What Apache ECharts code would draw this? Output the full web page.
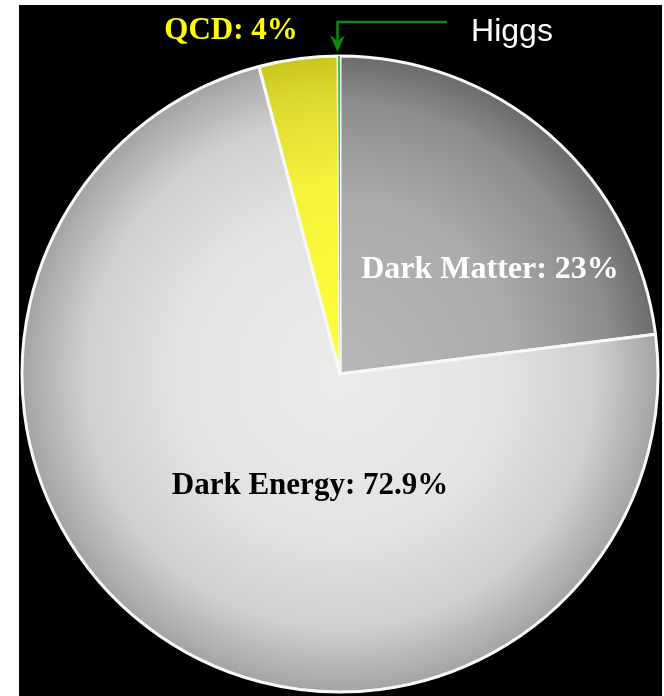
<!DOCTYPE html>
<html>
<head>
<meta charset="utf-8">
<title>Energy budget of the Universe</title>
<script src="https://cdn.jsdelivr.net/npm/echarts@6/dist/echarts.min.js"></script>
<style>
  html, body { margin: 0; padding: 0; background: #fff; }
  #chart { width: 664px; height: 696px; }
</style>
</head>
<body>
<div id="chart"></div>
<script>
// Shares of the cosmic energy budget, in percent, clockwise from 12 o'clock
const categories = ['Dark Matter', 'Dark Energy', 'QCD', 'Higgs'];
const shares = [23, 72.9, 4, 0.1];
// Which slices print their percentage after the name
const showValue = [true, true, true, false];

const CX = 340, CY = 374, R = 318;

function radial(stops) {
  return {
    type: 'radial', x: CX, y: CY, r: R + 2, global: true,
    colorStops: stops.map(([offset, color]) => ({ offset, color }))
  };
}

const sliceFill = {
  'Dark Matter': radial([[0, '#b8b8b8'], [0.55, '#aaaaaa'], [0.85, '#8c8c8c'], [1, '#6a6a6a']]),
  'Dark Energy': radial([[0, '#ececec'], [0.5, '#e3e3e3'], [0.8, '#cfcfcf'], [1, '#a2a2a2']]),
  'QCD':         radial([[0, '#ffff3c'], [0.6, '#f4f23a'], [0.85, '#dedb30'], [1, '#c9c51f']]),
  'Higgs':       '#34c934'
};

const serif = '"Liberation Serif", "Times New Roman", serif';
const labelFont = {
  'Dark Matter': { color: '#ffffff', fontFamily: serif, fontWeight: 'bold', fontSize: 32 },
  'Dark Energy': { color: '#000000', fontFamily: serif, fontWeight: 'bold', fontSize: 31 },
  'QCD':         { color: '#ffff00', fontFamily: serif, fontWeight: 'bold', fontSize: 31 },
  'Higgs':       { color: '#ffffff', fontFamily: '"Liberation Sans", Arial, sans-serif', fontWeight: 'normal', fontSize: 32 }
};

// Where each slice's caption sits on the page
const labelSpot = {
  'Dark Matter': [490, 270],
  'Dark Energy': [310, 486],
  'QCD':         [231, 31],
  'Higgs':       [512, 32]
};

const pieData = categories.map((name, i) => ({
  name,
  value: shares[i],
  itemStyle: name === 'Higgs'
    ? { color: sliceFill[name], borderWidth: 0 }
    : { color: sliceFill[name] },
  label: Object.assign({
    formatter: showValue[i] ? '{b}: {c}%' : '{b}'
  }, labelFont[name])
}));

const chart = echarts.init(document.getElementById('chart'), null, { renderer: 'canvas' });

chart.setOption({
  animation: false,
  backgroundColor: '#ffffff',
  graphic: [
    { type: 'rect', z: -10, shape: { x: 19, y: 5, width: 643, height: 691 }, style: { fill: '#000000' }, silent: true },
    // pointer from the Higgs caption down to its sliver
    { type: 'polyline', z: 10, shape: { points: [[447, 22], [337.5, 22], [337.5, 42]] },
      style: { stroke: '#0b8a0b', lineWidth: 2.5, fill: null }, silent: true },
    { type: 'polygon', z: 10, shape: { points: [[330, 35], [337.5, 41], [345, 35], [337.5, 52]] },
      style: { fill: '#0b8a0b' }, silent: true }
  ],
  series: [{
    type: 'pie',
    center: [CX, CY],
    radius: R,
    startAngle: 90,
    clockwise: true,
    silent: true,
    avoidLabelOverlap: false,
    itemStyle: { borderColor: '#f8f8f8', borderWidth: 3 },
    emphasis: { disabled: true },
    label: { show: true, position: 'inside', align: 'center', verticalAlign: 'middle' },
    labelLine: { show: false },
    labelLayout: function (params) {
      const spot = labelSpot[categories[params.dataIndex]];
      return { x: spot[0], y: spot[1], align: 'center', verticalAlign: 'middle' };
    },
    data: pieData
  }]
});
</script>
</body>
</html>
